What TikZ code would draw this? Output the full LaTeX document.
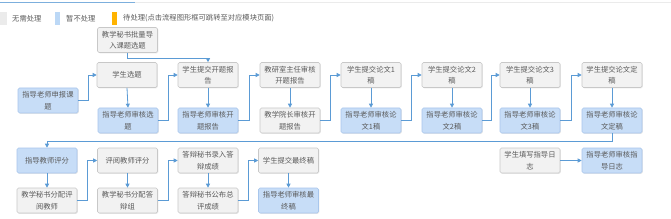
\documentclass[tikz,border=0pt]{standalone}
\usepackage{fontspec}
\newfontfamily\cjk{Noto Sans CJK SC}
\usetikzlibrary{arrows.meta,shadows}
\definecolor{gfill}{HTML}{F2F2F2}
\definecolor{gdraw}{HTML}{C8C8C8}
\definecolor{bfill}{HTML}{C7DDF7}
\definecolor{bdraw}{HTML}{A8C6EC}
\definecolor{lineblue}{HTML}{5B9BD5}
\definecolor{txt}{HTML}{5A5A5A}
\definecolor{orangebar}{HTML}{FFB300}
\definecolor{legblue}{HTML}{BCD8F6}
\definecolor{leggray}{HTML}{EBEBEB}
\tikzset{
  box/.style={rectangle, rounded corners=1.5pt, minimum width=60pt, minimum height=25pt,
    inner sep=1pt, draw=gdraw, line width=0.6pt, fill=gfill, text=txt,
    font=\cjk\fontsize{7.3}{11.5}\selectfont, align=center,
    drop shadow={opacity=0.18, shadow xshift=0.8pt, shadow yshift=-0.8pt}},
  bbox/.style={box, fill=bfill, draw=bdraw},
  conn/.style={draw=lineblue, line width=0.8pt, -{Triangle[length=4pt,width=4pt]}},
  leg/.style={text=txt, font=\cjk\fontsize{7.3}{9}\selectfont, anchor=west, inner sep=0pt}
}
\begin{document}
\begin{tikzpicture}[x=1pt,y=-1pt]
\useasboundingbox[fill=white] (0,0) rectangle (671,219);
% top tab lines
\draw[draw=black!8, line width=0.8pt] (135,2.5) -- (671,2.5);
\draw[draw=lineblue!80, line width=1pt] (0,2.5) -- (135,2.5);
% legend
\fill[leggray] (0,12) rectangle (7,25);
\node[leg] (l1) at (12,18.5) {无需处理};
\fill[legblue] (55,12) rectangle (60,25);
\node[leg] (l2) at (66,18.5) {暂不处理};
\fill[orangebar] (112,12) rectangle (117,25);
\node[leg] (l3) at (123,18.5) {待处理(点击流程图形框可跳转至对应模块页面)};
% row 1
\node[box]  (imp)  at (127.5,40)  {教学秘书批量导\\入课题选题};
\node[box]  (xt)   at (127,75)    {学生选题};
\node[bbox] (sb)   at (48,100.5)  {指导老师申报课\\题};
\node[bbox] (shxt) at (128,120.5) {指导老师审核选\\题};
\node[box]  (kt)   at (208,75)    {学生提交开题报\\告};
\node[bbox] (shkt) at (208,120.5) {指导老师审核开\\题报告};
\node[box]  (jys)  at (290,75)    {教研室主任审核\\开题报告};
\node[box]  (yz)   at (290,120.5) {教学院长审核开\\题报告};
\node[box]  (lw1)  at (371,75)    {学生提交论文1\\稿};
\node[bbox] (sh1)  at (371,120.5) {指导老师审核论\\文1稿};
\node[box]  (lw2)  at (452,75)    {学生提交论文2\\稿};
\node[bbox] (sh2)  at (452,120.5) {指导老师审核论\\文2稿};
\node[box]  (lw3)  at (530,75)    {学生提交论文3\\稿};
\node[bbox] (sh3)  at (530,120.5) {指导老师审核论\\文3稿};
\node[box]  (dg)   at (612,75)    {学生提交论文定\\稿};
\node[bbox] (shdg) at (612,120.5) {指导老师审核论\\文定稿};
% row 2
\node[bbox] (pf)   at (47,160.5)  {指导教师评分};
\node[box]  (fpy)  at (47,200.5)  {教学秘书分配评\\阅教师};
\node[box]  (yypf) at (127.5,160.5) {评阅教师评分};
\node[box]  (fdb)  at (127.5,200.5) {教学秘书分配答\\辩组};
\node[box]  (lr)   at (208,160.5) {答辩秘书录入答\\辩成绩};
\node[box]  (gb)   at (208,200.5) {答辩秘书公布总\\评成绩};
\node[box]  (zzg)  at (288.5,160.5) {学生提交最终稿};
\node[bbox] (shzz) at (288.5,200.5) {指导老师审核最\\终稿};
\node[box]  (rz)   at (530,160.5) {学生填写指导日\\志};
\node[bbox] (shrz) at (612,160.5) {指导老师审核指\\导日志};
% connectors row 1
\draw[conn] (imp.south) -- ++(0,6) -| (kt.north);
\draw[conn] (sb.east) -- ++(10,0) |- (xt.west);
\draw[conn] (xt.south) -- (shxt.north);
\draw[conn] (shxt.east) -- ++(10,0) |- (kt.west);
\draw[conn] (kt.south) -- (shkt.north);
\draw[conn] (shkt.east) -- ++(11,0) |- (jys.west);
\draw[conn] (jys.south) -- (yz.north);
\draw[conn] (yz.east) -- ++(10.5,0) |- (lw1.west);
\draw[conn] (lw1.south) -- (sh1.north);
\draw[conn] (sh1.east) -- ++(10.5,0) |- (lw2.west);
\draw[conn] (lw2.south) -- (sh2.north);
\draw[conn] (sh2.east) -- ++(9,0) |- (lw3.west);
\draw[conn] (lw3.south) -- (sh3.north);
\draw[conn] (sh3.east) -- ++(11,0) |- (dg.west);
\draw[conn] (dg.south) -- (shdg.north);
\draw[conn] (shdg.south) -- ++(0,8.5) -| (pf.north);
% connectors row 2
\draw[conn] (pf.south) -- (fpy.north);
\draw[conn] (fpy.east) -- ++(10.5,0) |- (yypf.west);
\draw[conn] (yypf.south) -- (fdb.north);
\draw[conn] (fdb.east) -- ++(10.5,0) |- (lr.west);
\draw[conn] (lr.south) -- (gb.north);
\draw[conn] (gb.east) -- ++(10,0) |- (zzg.west);
\draw[conn] (zzg.south) -- (shzz.north);
\draw[conn] (rz.east) -- (shrz.west);
\end{tikzpicture}
\end{document}
